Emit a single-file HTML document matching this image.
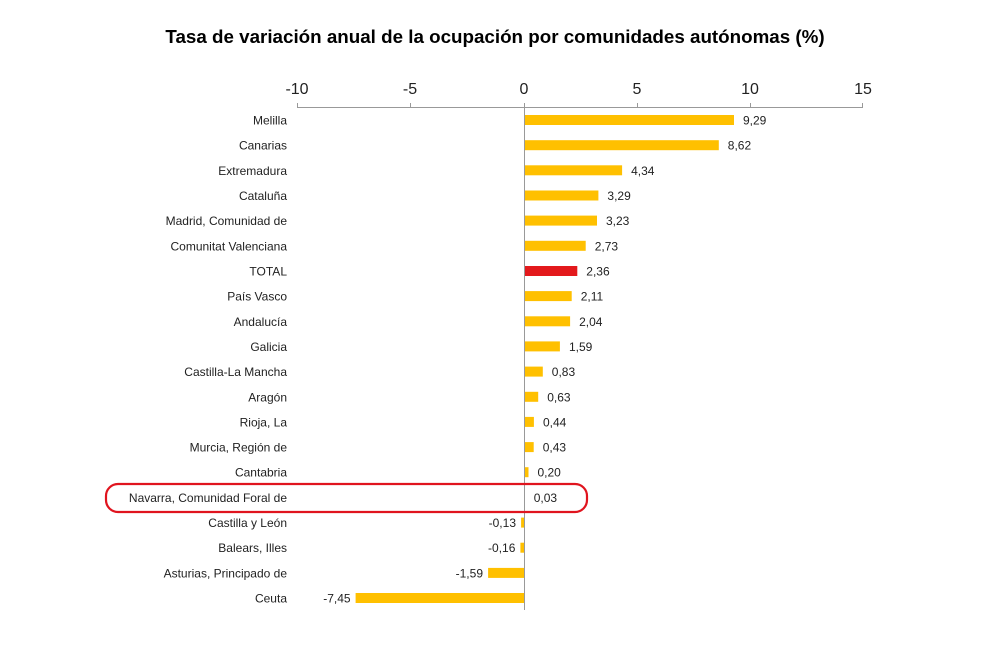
<!DOCTYPE html>
<html><head><meta charset="utf-8"><style>
body{margin:0;background:#fff;}
svg text{font-family:"Liberation Sans",Arial,sans-serif;}
</style></head><body>
<svg width="1000" height="641" viewBox="0 0 1000 641" xmlns="http://www.w3.org/2000/svg">
<text x="495" y="43" text-anchor="middle" font-size="18.8" font-weight="bold" fill="#000">Tasa de variación anual de la ocupación por comunidades autónomas (%)</text>
<g font-size="16" fill="#222" text-anchor="middle">
<text x="297" y="94">-10</text><text x="410" y="94">-5</text><text x="524" y="94">0</text><text x="637" y="94">5</text><text x="750" y="94">10</text><text x="863" y="94">15</text>
</g>
<g stroke="#999" stroke-width="1" fill="none">
<line x1="297" y1="107.5" x2="863" y2="107.5"/>
<line x1="297.5" y1="103" x2="297.5" y2="108"/><line x1="410.5" y1="103" x2="410.5" y2="108"/><line x1="637.5" y1="103" x2="637.5" y2="108"/><line x1="750.5" y1="103" x2="750.5" y2="108"/><line x1="862.5" y1="103" x2="862.5" y2="108"/>
</g>
<g font-size="12" fill="#222" text-anchor="end">
<text x="287" y="124.5">Melilla</text>
<text x="287" y="149.7">Canarias</text>
<text x="287" y="174.8">Extremadura</text>
<text x="287" y="200">Cataluña</text>
<text x="287" y="225.1">Madrid, Comunidad de</text>
<text x="287" y="250.3">Comunitat Valenciana</text>
<text x="287" y="275.5">TOTAL</text>
<text x="287" y="300.6">País Vasco</text>
<text x="287" y="325.8">Andalucía</text>
<text x="287" y="350.9">Galicia</text>
<text x="287" y="376.1">Castilla-La Mancha</text>
<text x="287" y="401.3">Aragón</text>
<text x="287" y="426.4">Rioja, La</text>
<text x="287" y="451.6">Murcia, Región de</text>
<text x="287" y="476.7">Cantabria</text>
<text x="287" y="501.9">Navarra, Comunidad Foral de</text>
<text x="287" y="527.1">Castilla y León</text>
<text x="287" y="552.2">Balears, Illes</text>
<text x="287" y="577.4">Asturias, Principado de</text>
<text x="287" y="602.5">Ceuta</text>
</g>
<g fill="#ffc000">
<rect x="524" y="115" width="210" height="10"/>
<rect x="524" y="140.2" width="194.8" height="10"/>
<rect x="524" y="165.3" width="98.1" height="10"/>
<rect x="524" y="190.5" width="74.4" height="10"/>
<rect x="524" y="215.6" width="73" height="10"/>
<rect x="524" y="240.8" width="61.7" height="10"/>
<rect x="524" y="266" width="53.3" height="10" fill="#e3191c"/>
<rect x="524" y="291.1" width="47.7" height="10"/>
<rect x="524" y="316.3" width="46.1" height="10"/>
<rect x="524" y="341.4" width="35.9" height="10"/>
<rect x="524" y="366.6" width="18.8" height="10"/>
<rect x="524" y="391.8" width="14.2" height="10"/>
<rect x="524" y="416.9" width="9.9" height="10"/>
<rect x="524" y="442.1" width="9.7" height="10"/>
<rect x="524" y="467.2" width="4.5" height="10"/>
<rect x="524" y="492.4" width="0.7" height="10"/>
<rect x="521.1" y="517.6" width="2.9" height="10"/>
<rect x="520.4" y="542.7" width="3.6" height="10"/>
<rect x="488.1" y="567.9" width="35.9" height="10"/>
<rect x="355.6" y="593" width="168.4" height="10"/>
</g>
<g font-size="12" fill="#222">
<text x="743" y="124.5">9,29</text>
<text x="727.8" y="149.7">8,62</text>
<text x="631.1" y="174.8">4,34</text>
<text x="607.4" y="200">3,29</text>
<text x="606" y="225.1">3,23</text>
<text x="594.7" y="250.3">2,73</text>
<text x="586.3" y="275.5">2,36</text>
<text x="580.7" y="300.6">2,11</text>
<text x="579.1" y="325.8">2,04</text>
<text x="569" y="350.9">1,59</text>
<text x="551.8" y="376.1">0,83</text>
<text x="547.2" y="401.3">0,63</text>
<text x="543" y="426.4">0,44</text>
<text x="542.7" y="451.6">0,43</text>
<text x="537.5" y="476.7">0,20</text>
<text x="533.7" y="501.9">0,03</text>
</g>
<g font-size="12" fill="#222" text-anchor="end">
<text x="516" y="527.1">-0,13</text>
<text x="515.4" y="552.2">-0,16</text>
<text x="483" y="577.4">-1,59</text>
<text x="350.6" y="602.5">-7,45</text>
</g>
<line x1="524.5" y1="103" x2="524.5" y2="610" stroke="#999" stroke-width="1"/>
<rect x="106" y="484" width="481" height="28" rx="12" ry="12" fill="none" stroke="#e0141e" stroke-width="2.2"/>
</svg>
</body></html>
